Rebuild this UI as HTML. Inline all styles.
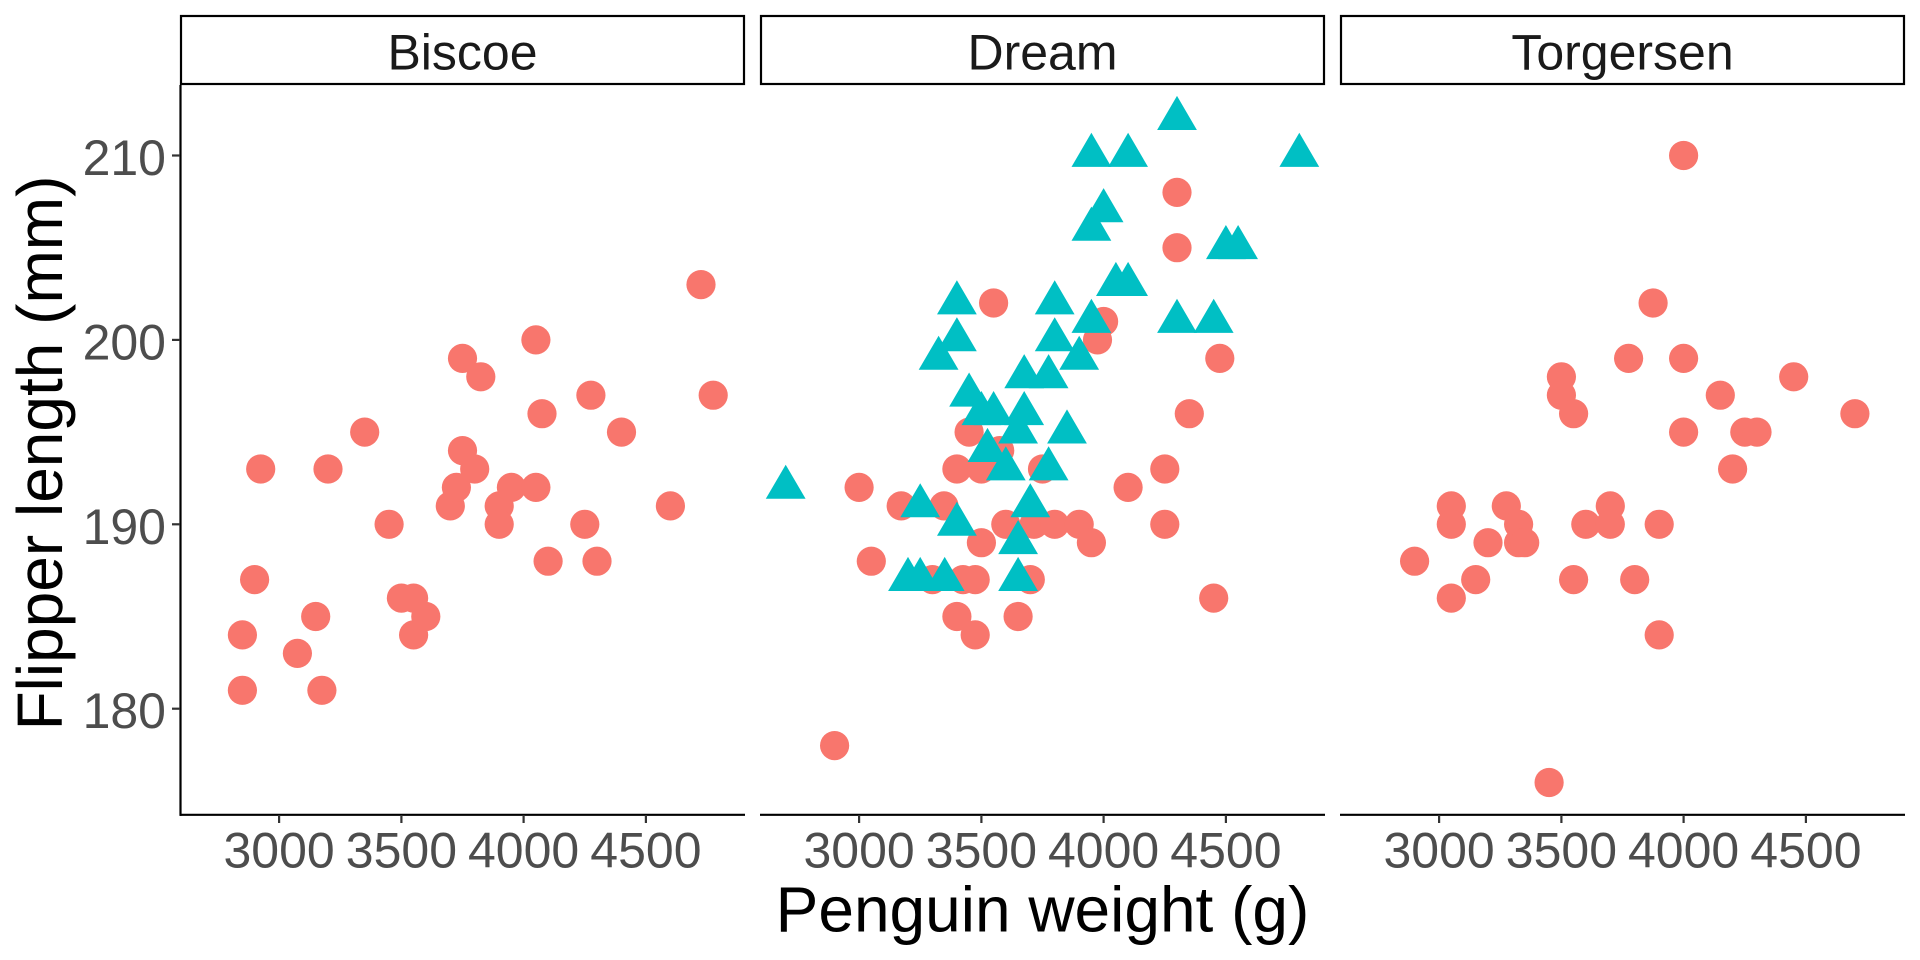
<!DOCTYPE html>
<html>
<head>
<meta charset="utf-8">
<style>
html,body{margin:0;padding:0;background:#fff;}
svg{display:block;}
text{font-family:"Liberation Sans",Arial,sans-serif;}
</style>
</head>
<body>
<svg width="1920" height="960" viewBox="0 0 1920 960" xmlns="http://www.w3.org/2000/svg" xmlns:xlink="http://www.w3.org/1999/xlink">
<defs>
<path id="t" d="M0,-22.7L19.9,11.4L-19.9,11.4Z" fill="#00BFC4"/>
</defs>
<rect width="1920" height="960" fill="#fff"/>

<!-- strips -->
<g fill="none" stroke="#000" stroke-width="2.2">
<rect x="181" y="16" width="563" height="68"/>
<rect x="761" y="16" width="563" height="68"/>
<rect x="1341" y="16" width="563" height="68"/>
</g>
<g font-size="50" fill="#1A1A1A" text-anchor="middle">
<text x="462.5" y="69.3">Biscoe</text>
<text x="1042.5" y="69.3">Dream</text>
<text x="1622.5" y="69.3">Torgersen</text>
</g>

<!-- axes -->
<g stroke="#000" stroke-width="2.2">
<line x1="180.5" y1="85" x2="180.5" y2="815.9"/>
<line x1="180" y1="814.8" x2="745" y2="814.8"/>
<line x1="760" y1="814.8" x2="1325" y2="814.8"/>
<line x1="1340" y1="814.8" x2="1905" y2="814.8"/>
</g>
<!-- y ticks -->
<g stroke="#333" stroke-width="2.2">
<line x1="172" y1="155.5" x2="180" y2="155.5"/>
<line x1="172" y1="339.9" x2="180" y2="339.9"/>
<line x1="172" y1="524.3" x2="180" y2="524.3"/>
<line x1="172" y1="708.7" x2="180" y2="708.7"/>
</g>
<g font-size="50" fill="#4D4D4D" text-anchor="end">
<text x="166" y="175">210</text>
<text x="166" y="359.4">200</text>
<text x="166" y="543.8">190</text>
<text x="166" y="728.2">180</text>
</g>

<!-- x ticks and labels per panel -->
<g transform="translate(180,0)">
<g stroke="#333" stroke-width="2.2">
<line x1="99.1" y1="815" x2="99.1" y2="823"/>
<line x1="221.4" y1="815" x2="221.4" y2="823"/>
<line x1="343.6" y1="815" x2="343.6" y2="823"/>
<line x1="465.9" y1="815" x2="465.9" y2="823"/>
</g>
<g font-size="50" fill="#4D4D4D" text-anchor="middle">
<text x="99.1" y="867.5">3000</text>
<text x="221.4" y="867.5">3500</text>
<text x="343.6" y="867.5">4000</text>
<text x="465.9" y="867.5">4500</text>
</g>
</g>
<g transform="translate(760,0)">
<g stroke="#333" stroke-width="2.2">
<line x1="99.1" y1="815" x2="99.1" y2="823"/>
<line x1="221.4" y1="815" x2="221.4" y2="823"/>
<line x1="343.6" y1="815" x2="343.6" y2="823"/>
<line x1="465.9" y1="815" x2="465.9" y2="823"/>
</g>
<g font-size="50" fill="#4D4D4D" text-anchor="middle">
<text x="99.1" y="867.5">3000</text>
<text x="221.4" y="867.5">3500</text>
<text x="343.6" y="867.5">4000</text>
<text x="465.9" y="867.5">4500</text>
</g>
</g>
<g transform="translate(1340,0)">
<g stroke="#333" stroke-width="2.2">
<line x1="99.1" y1="815" x2="99.1" y2="823"/>
<line x1="221.4" y1="815" x2="221.4" y2="823"/>
<line x1="343.6" y1="815" x2="343.6" y2="823"/>
<line x1="465.9" y1="815" x2="465.9" y2="823"/>
</g>
<g font-size="50" fill="#4D4D4D" text-anchor="middle">
<text x="99.1" y="867.5">3000</text>
<text x="221.4" y="867.5">3500</text>
<text x="343.6" y="867.5">4000</text>
<text x="465.9" y="867.5">4500</text>
</g>
</g>

<!-- titles -->
<text x="1042.5" y="931.5" font-size="64" fill="#000" text-anchor="middle">Penguin weight (g)</text>
<text transform="translate(62,453) rotate(-90)" font-size="64" fill="#000" text-anchor="middle">Flipper length (mm)</text>

<!-- Panel 1: Biscoe -->
<g transform="translate(180,0)" fill="#F8766D">
<circle cx="62.4" cy="634.9" r="14.6"/>
<circle cx="62.4" cy="690.3" r="14.6"/>
<circle cx="74.6" cy="579.6" r="14.6"/>
<circle cx="80.7" cy="469.0" r="14.6"/>
<circle cx="117.4" cy="653.4" r="14.6"/>
<circle cx="135.7" cy="616.5" r="14.6"/>
<circle cx="141.9" cy="690.3" r="14.6"/>
<circle cx="148.0" cy="469.0" r="14.6"/>
<circle cx="184.7" cy="432.1" r="14.6"/>
<circle cx="209.1" cy="524.3" r="14.6"/>
<circle cx="221.4" cy="598.1" r="14.6"/>
<circle cx="233.6" cy="598.1" r="14.6"/>
<circle cx="233.6" cy="634.9" r="14.6"/>
<circle cx="245.8" cy="616.5" r="14.6"/>
<circle cx="270.3" cy="505.9" r="14.6"/>
<circle cx="276.4" cy="487.4" r="14.6"/>
<circle cx="282.5" cy="450.6" r="14.6"/>
<circle cx="282.5" cy="358.4" r="14.6"/>
<circle cx="294.7" cy="469.0" r="14.6"/>
<circle cx="300.8" cy="376.8" r="14.6"/>
<circle cx="319.2" cy="505.9" r="14.6"/>
<circle cx="319.2" cy="524.3" r="14.6"/>
<circle cx="331.4" cy="487.4" r="14.6"/>
<circle cx="355.9" cy="487.4" r="14.6"/>
<circle cx="355.9" cy="339.9" r="14.6"/>
<circle cx="362.0" cy="413.7" r="14.6"/>
<circle cx="368.1" cy="561.2" r="14.6"/>
<circle cx="410.9" cy="395.2" r="14.6"/>
<circle cx="404.8" cy="524.3" r="14.6"/>
<circle cx="417.0" cy="561.2" r="14.6"/>
<circle cx="441.5" cy="432.1" r="14.6"/>
<circle cx="490.4" cy="505.9" r="14.6"/>
<circle cx="521.0" cy="284.6" r="14.6"/>
<circle cx="533.2" cy="395.2" r="14.6"/>
</g>

<!-- Panel 2: Dream -->
<g transform="translate(760,0)">
<g fill="#F8766D">
<circle cx="417.0" cy="192.4" r="14.6"/>
<circle cx="417.0" cy="247.7" r="14.6"/>
<circle cx="233.6" cy="303.0" r="14.6"/>
<circle cx="343.6" cy="321.5" r="14.6"/>
<circle cx="337.5" cy="339.9" r="14.6"/>
<circle cx="459.8" cy="358.4" r="14.6"/>
<circle cx="429.3" cy="413.7" r="14.6"/>
<circle cx="209.1" cy="432.1" r="14.6"/>
<circle cx="239.7" cy="450.6" r="14.6"/>
<circle cx="196.9" cy="469.0" r="14.6"/>
<circle cx="221.4" cy="469.0" r="14.6"/>
<circle cx="282.5" cy="469.0" r="14.6"/>
<circle cx="404.8" cy="469.0" r="14.6"/>
<circle cx="99.1" cy="487.4" r="14.6"/>
<circle cx="368.1" cy="487.4" r="14.6"/>
<circle cx="141.2" cy="505.9" r="14.6"/>
<circle cx="184.0" cy="505.9" r="14.6"/>
<circle cx="245.8" cy="524.3" r="14.6"/>
<circle cx="274.0" cy="524.3" r="14.6"/>
<circle cx="294.7" cy="524.3" r="14.6"/>
<circle cx="319.2" cy="524.3" r="14.6"/>
<circle cx="404.8" cy="524.3" r="14.6"/>
<circle cx="221.4" cy="542.7" r="14.6"/>
<circle cx="331.4" cy="542.7" r="14.6"/>
<circle cx="111.3" cy="561.2" r="14.6"/>
<circle cx="172.4" cy="579.6" r="14.6"/>
<circle cx="203.0" cy="579.6" r="14.6"/>
<circle cx="215.2" cy="579.6" r="14.6"/>
<circle cx="270.3" cy="579.6" r="14.6"/>
<circle cx="453.7" cy="598.1" r="14.6"/>
<circle cx="196.9" cy="616.5" r="14.6"/>
<circle cx="258.1" cy="616.5" r="14.6"/>
<circle cx="215.2" cy="634.9" r="14.6"/>
<circle cx="74.6" cy="745.6" r="14.6"/>
</g>
<g>
<use href="#t" xlink:href="#t" x="417.0" y="118.6"/>
<use href="#t" xlink:href="#t" x="331.4" y="155.5"/>
<use href="#t" xlink:href="#t" x="368.1" y="155.5"/>
<use href="#t" xlink:href="#t" x="539.3" y="155.5"/>
<use href="#t" xlink:href="#t" x="343.6" y="210.8"/>
<use href="#t" xlink:href="#t" x="331.4" y="229.3"/>
<use href="#t" xlink:href="#t" x="465.9" y="247.7"/>
<use href="#t" xlink:href="#t" x="478.1" y="247.7"/>
<use href="#t" xlink:href="#t" x="355.9" y="284.6"/>
<use href="#t" xlink:href="#t" x="368.1" y="284.6"/>
<use href="#t" xlink:href="#t" x="196.9" y="303.0"/>
<use href="#t" xlink:href="#t" x="294.7" y="303.0"/>
<use href="#t" xlink:href="#t" x="331.4" y="321.5"/>
<use href="#t" xlink:href="#t" x="417.0" y="321.5"/>
<use href="#t" xlink:href="#t" x="453.7" y="321.5"/>
<use href="#t" xlink:href="#t" x="196.9" y="339.9"/>
<use href="#t" xlink:href="#t" x="294.7" y="339.9"/>
<use href="#t" xlink:href="#t" x="178.6" y="358.4"/>
<use href="#t" xlink:href="#t" x="319.2" y="358.4"/>
<use href="#t" xlink:href="#t" x="264.2" y="376.8"/>
<use href="#t" xlink:href="#t" x="288.6" y="376.8"/>
<use href="#t" xlink:href="#t" x="209.1" y="395.2"/>
<use href="#t" xlink:href="#t" x="221.4" y="413.7"/>
<use href="#t" xlink:href="#t" x="233.6" y="413.7"/>
<use href="#t" xlink:href="#t" x="264.2" y="413.7"/>
<use href="#t" xlink:href="#t" x="258.1" y="432.1"/>
<use href="#t" xlink:href="#t" x="307.0" y="432.1"/>
<use href="#t" xlink:href="#t" x="227.5" y="450.6"/>
<use href="#t" xlink:href="#t" x="245.8" y="469.0"/>
<use href="#t" xlink:href="#t" x="288.6" y="469.0"/>
<use href="#t" xlink:href="#t" x="25.7" y="487.4"/>
<use href="#t" xlink:href="#t" x="160.2" y="505.9"/>
<use href="#t" xlink:href="#t" x="270.3" y="505.9"/>
<use href="#t" xlink:href="#t" x="196.9" y="524.3"/>
<use href="#t" xlink:href="#t" x="258.1" y="542.7"/>
<use href="#t" xlink:href="#t" x="148.0" y="579.6"/>
<use href="#t" xlink:href="#t" x="160.2" y="579.6"/>
<use href="#t" xlink:href="#t" x="184.7" y="579.6"/>
<use href="#t" xlink:href="#t" x="258.1" y="579.6"/>
</g>
</g>

<!-- Panel 3: Torgersen -->
<g transform="translate(1340,0)" fill="#F8766D">
<circle cx="343.6" cy="155.5" r="14.6"/>
<circle cx="313.1" cy="303.0" r="14.6"/>
<circle cx="288.6" cy="358.4" r="14.6"/>
<circle cx="343.6" cy="358.4" r="14.6"/>
<circle cx="221.4" cy="376.8" r="14.6"/>
<circle cx="453.7" cy="376.8" r="14.6"/>
<circle cx="221.4" cy="395.2" r="14.6"/>
<circle cx="380.3" cy="395.2" r="14.6"/>
<circle cx="233.6" cy="413.7" r="14.6"/>
<circle cx="514.9" cy="413.7" r="14.6"/>
<circle cx="343.6" cy="432.1" r="14.6"/>
<circle cx="404.8" cy="432.1" r="14.6"/>
<circle cx="417.0" cy="432.1" r="14.6"/>
<circle cx="392.6" cy="469.0" r="14.6"/>
<circle cx="111.3" cy="505.9" r="14.6"/>
<circle cx="111.3" cy="524.3" r="14.6"/>
<circle cx="166.3" cy="505.9" r="14.6"/>
<circle cx="178.6" cy="524.3" r="14.6"/>
<circle cx="148.0" cy="542.7" r="14.6"/>
<circle cx="178.6" cy="542.7" r="14.6"/>
<circle cx="184.7" cy="542.7" r="14.6"/>
<circle cx="74.6" cy="561.2" r="14.6"/>
<circle cx="135.7" cy="579.6" r="14.6"/>
<circle cx="111.3" cy="598.1" r="14.6"/>
<circle cx="245.8" cy="524.3" r="14.6"/>
<circle cx="270.3" cy="505.9" r="14.6"/>
<circle cx="270.3" cy="524.3" r="14.6"/>
<circle cx="319.2" cy="524.3" r="14.6"/>
<circle cx="233.6" cy="579.6" r="14.6"/>
<circle cx="294.7" cy="579.6" r="14.6"/>
<circle cx="319.2" cy="634.9" r="14.6"/>
<circle cx="209.1" cy="782.5" r="14.6"/>
</g>
</svg>
</body>
</html>
